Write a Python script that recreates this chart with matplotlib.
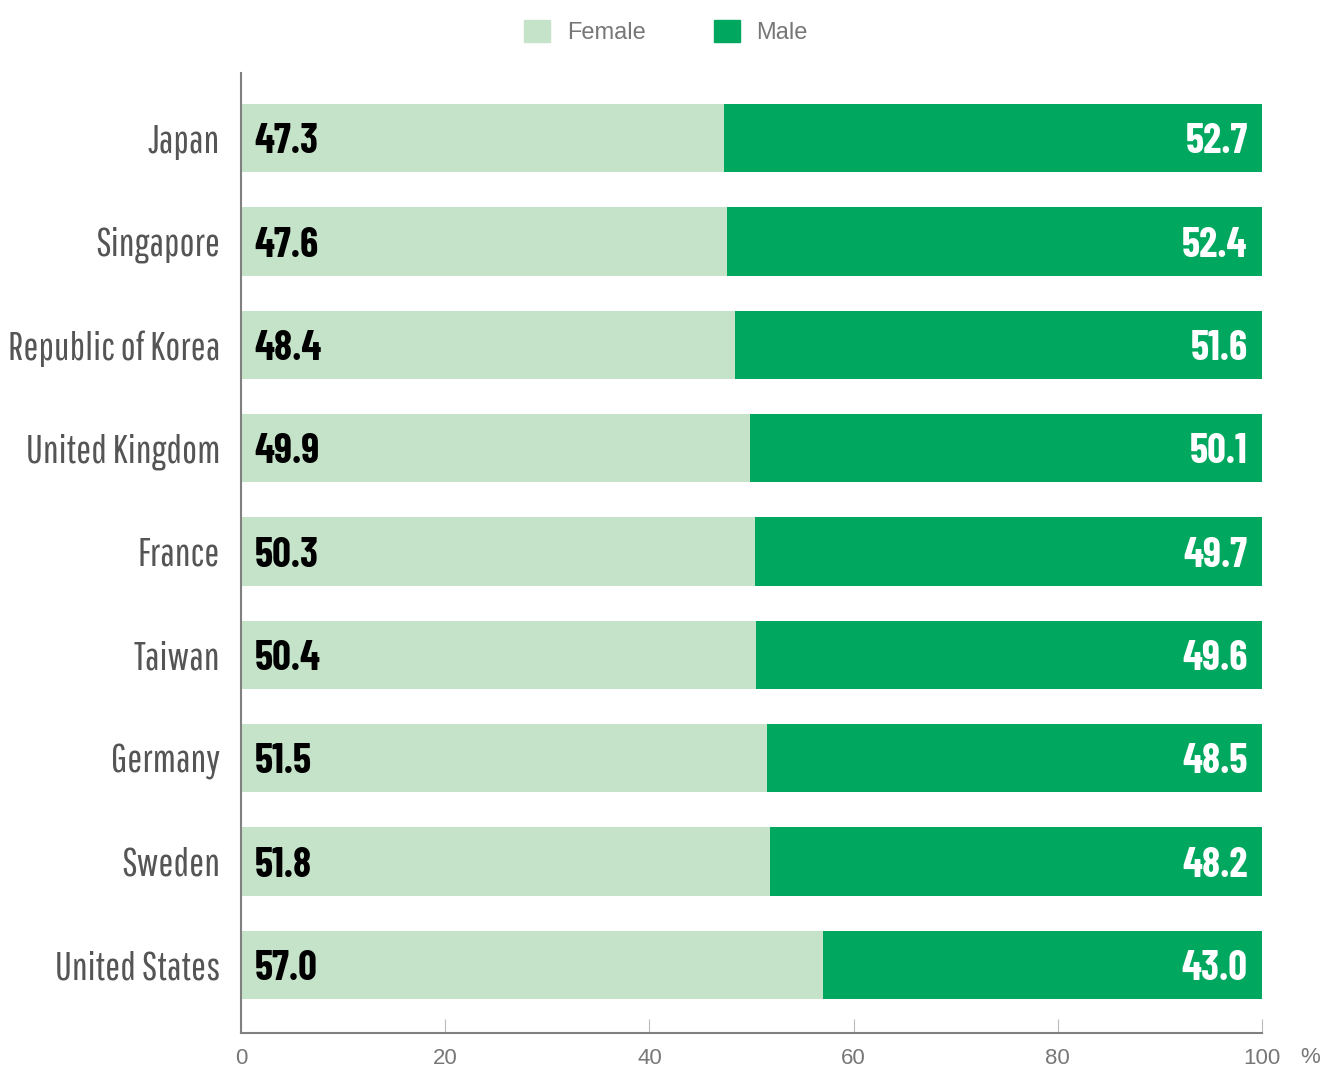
import matplotlib.pyplot as plt
from matplotlib import font_manager as fm
from matplotlib.patches import Patch

countries = ["Japan", "Singapore", "Republic of Korea", "United Kingdom", "France",
             "Taiwan", "Germany", "Sweden", "United States"]
female = [47.3, 47.6, 48.4, 49.9, 50.3, 50.4, 51.5, 51.8, 57.0]
male = [52.7, 52.4, 51.6, 50.1, 49.7, 49.6, 48.5, 48.2, 43.0]

c_female = "#c5e3c9"
c_male = "#00a85f"

fonts = fm.fontManager.ttflist
installed = {f.name for f in fonts}
bold_ok = {f.name for f in fonts if f.weight in (700, "bold")}


def pick(names, pool):
    for n in names:
        if n in pool:
            return n
    return "DejaVu Sans"


label_font = pick(["Pathway Gothic One", "Oswald", "Roboto Condensed"], installed)
num_font = pick(["Barlow Condensed", "Oswald", "Roboto Condensed", "Saira ExtraCondensed",
                 "Saira SemiCondensed"], bold_ok)
tick_font = pick(["Liberation Sans", "Arimo"], installed)

fig = plt.figure(figsize=(13.23, 10.68), dpi=100)
ax = fig.add_axes([241 / 1323, 1 - 1033 / 1068, 1021 / 1323, 960 / 1068])
r = fig.canvas.get_renderer()

y = list(range(len(countries)))
ax.barh(y, female, height=0.66, color=c_female)
ax.barh(y, male, left=female, height=0.66, color=c_male)

# size the number font so "47.3" is about 64 px wide
probe = fig.text(0, 0, "47.3", fontsize=30, family=num_font, fontweight="bold")
nsize = 30 * 64 / probe.get_window_extent(r).width
probe.remove()
nsize = min(nsize, 36)

for i, (f, m) in enumerate(zip(female, male)):
    ax.text(1.3, i + 0.04, f"{f:.1f}", va="center", ha="left", fontsize=nsize,
            fontweight="bold", family=num_font, color="black")
    ax.text(98.6, i + 0.04, f"{m:.1f}", va="center", ha="right", fontsize=nsize,
            fontweight="bold", family=num_font, color="white")

ax.set_xlim(0, 100)
ax.set_ylim(8.66, -0.63)
ax.set_yticks(y)

# size the country font so "Republic of Korea" is about 212 px wide
probe = fig.text(0, 0, "Republic of Korea", fontsize=24, family=label_font)
lsize = 24 * 212 / probe.get_window_extent(r).width
probe.remove()
ax.set_yticklabels(countries, family=label_font, fontsize=lsize, color="#555555")
ax.tick_params(axis="y", length=0, pad=15)

ax.set_xticks([0, 20, 40, 60, 80, 100])
ax.set_xticklabels(["0", "20", "40", "60", "80", "100"], family=tick_font,
                   fontsize=16, color="#777777")
ax.tick_params(axis="x", direction="in", length=10, color="#bbbbbb", pad=11)
ax.text(1.047, -0.0145, "%", transform=ax.transAxes, ha="center", va="top",
        family=tick_font, fontsize=16, color="#777777")

for s in ["top", "right"]:
    ax.spines[s].set_visible(False)
for s in ["left", "bottom"]:
    ax.spines[s].set_color("#808080")
    ax.spines[s].set_linewidth(1.5)

handles = [Patch(color=c_female, label="Female"), Patch(color=c_male, label="Male")]
fig.legend(handles=handles, loc="center", bbox_to_anchor=(666 / 1323, 1 - 32 / 1068),
           ncol=2, frameon=False, handlelength=1.1, handleheight=1.1,
           columnspacing=2.9, handletextpad=0.7,
           prop={"family": tick_font, "size": 17})
for t in fig.legends[0].get_texts():
    t.set_color("#777777")

fig.savefig("out.png", dpi=100)
